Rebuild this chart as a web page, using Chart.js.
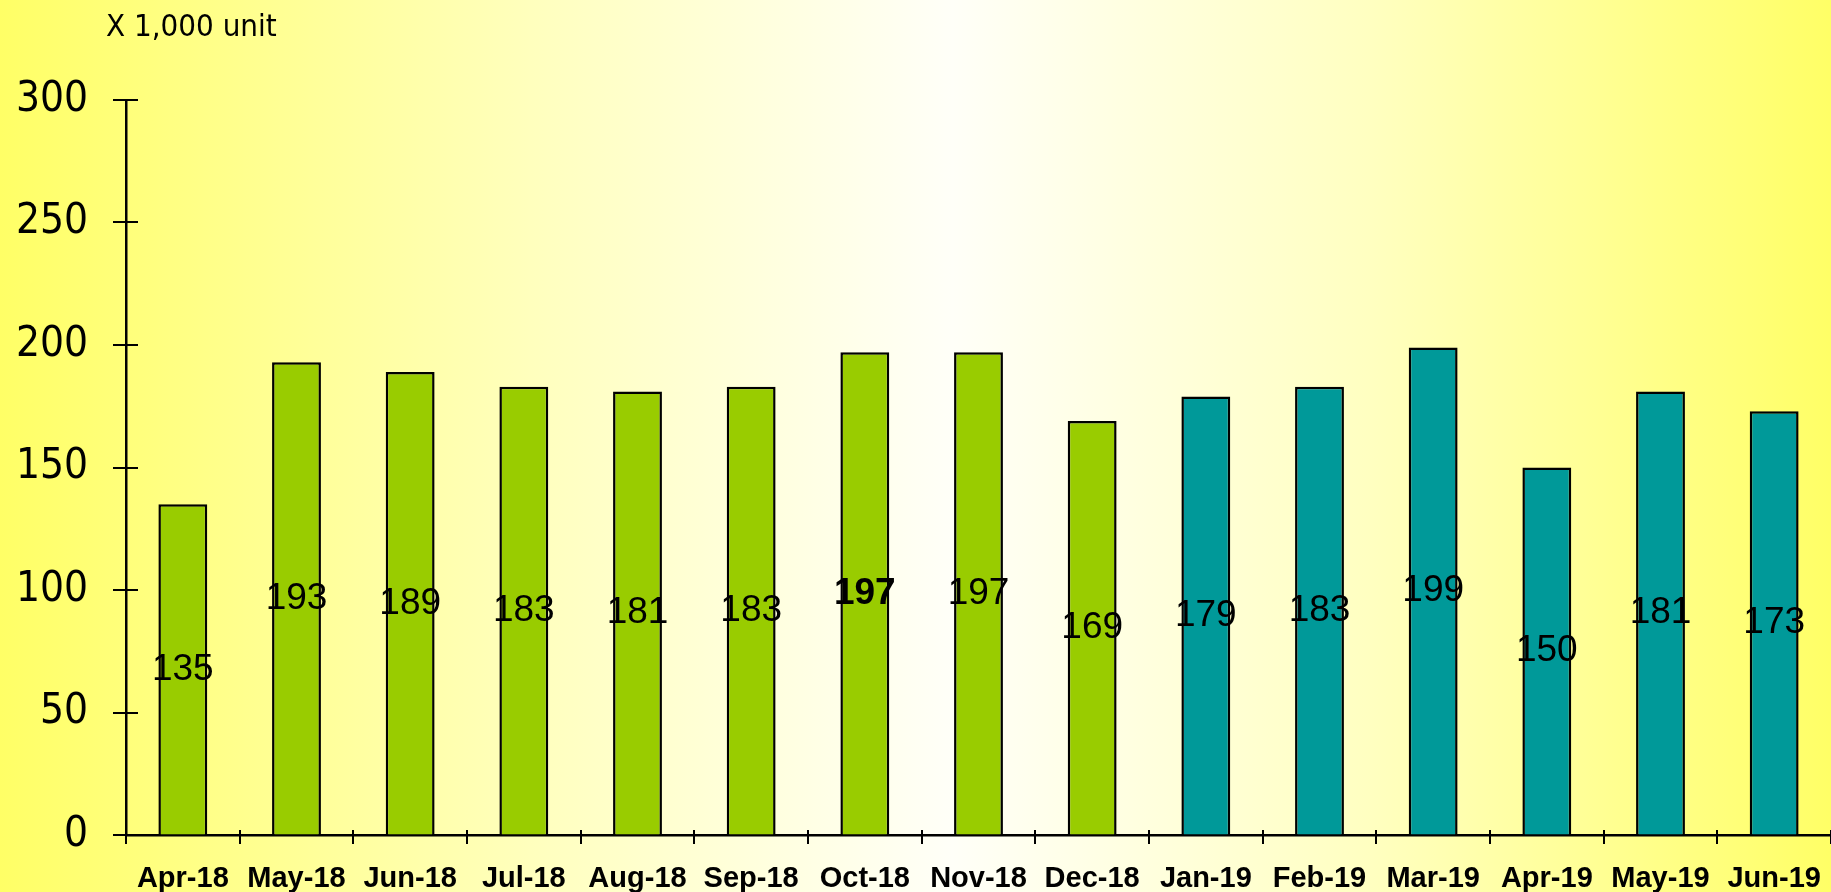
<!DOCTYPE html>
<html>
<head>
<meta charset="utf-8">
<style>
html,body{margin:0;padding:0;overflow:hidden;}
body{width:1831px;height:892px;background:linear-gradient(90deg,#ffff66 0%,#ffffc0 30%,#fffff8 52%,#ffffc0 75%,#ffff66 100%);}
#wrap{position:absolute;left:0;top:0;width:1831px;height:892px;}
</style>
<script src="https://cdn.jsdelivr.net/npm/chart.js@4"></script>
</head>
<body>
<div id="wrap"><canvas id="c" width="1831" height="892"></canvas></div>
<script>
const months=["Apr-18","May-18","Jun-18","Jul-18","Aug-18","Sep-18","Oct-18","Nov-18","Dec-18","Jan-19","Feb-19","Mar-19","Apr-19","May-19","Jun-19"];
const units=[135,193,189,183,181,183,197,197,169,179,183,199,150,181,173];
const yTicks=[0,50,100,150,200,250,300];
const boldLabels=["Oct-18"];
const unitText="X 1,000 unit";

const GREEN="#99cc00",TEAL="#009999";
const condensed='"DejaVu Sans Condensed","DejaVu Sans",sans-serif';

const ticksAndLabels={
  id:"ticksAndLabels",
  afterDraw(chart){
    const ctx=chart.ctx,x=chart.scales.x,y=chart.scales.y;
    const y0=y.getPixelForValue(0);
    ctx.save();
    ctx.strokeStyle="#000";
    ctx.lineWidth=2;
    // y ticks cross the axis
    yTicks.forEach(v=>{
      const py=Math.round(y.getPixelForValue(v));
      ctx.beginPath();ctx.moveTo(x.left-13,py);ctx.lineTo(x.left+12,py);ctx.stroke();
    });
    // category boundaries
    const w=x.getPixelForValue(1)-x.getPixelForValue(0);
    for(let i=0;i<=months.length;i++){
      const px=Math.round(x.getPixelForValue(i)-w/2);
      ctx.beginPath();ctx.moveTo(px,y0-5);ctx.lineTo(px,y0+9);ctx.stroke();
    }
    // value labels in the middle of each bar
    const meta=chart.getDatasetMeta(0);
    ctx.fillStyle="#000";
    ctx.textAlign="center";
    ctx.textBaseline="middle";
    meta.data.forEach((bar,i)=>{
      const b=boldLabels.includes(months[i]);
      ctx.font=(b?"bold ":"")+'37px "Liberation Sans",Arial,sans-serif';
      ctx.fillText(String(units[i]),bar.x,y.getPixelForValue(units[i]/2));
    });
    // unit caption
    ctx.font="31px "+condensed;
    ctx.textAlign="left";
    ctx.textBaseline="alphabetic";
    ctx.fillText(unitText,106,36);
    ctx.restore();
  }
};

new Chart(document.getElementById("c"),{
  type:"bar",
  data:{
    labels:months,
    datasets:[{
      data:units,
      backgroundColor:months.map(m=>m.endsWith("-18")?GREEN:TEAL),
      borderColor:"#000",
      borderWidth:2.5,
      barPercentage:0.43,
      categoryPercentage:1
    }]
  },
  options:{
    responsive:false,
    animation:false,
    devicePixelRatio:1,
    layout:{padding:{top:100,right:0,bottom:0,left:0}},
    plugins:{legend:{display:false},tooltip:{enabled:false},title:{display:false}},
    scales:{
      x:{
        grid:{display:true,drawOnChartArea:false,drawTicks:false},
        border:{display:true,color:"#000",width:2.5},
        ticks:{color:"#000",font:{family:'"Liberation Sans",Arial,sans-serif',size:29,weight:"bold"},padding:27,maxRotation:0,autoSkip:false},
        afterFit(s){s.height=57;s.paddingLeft=0;s.paddingRight=0;}
      },
      y:{
        min:0,max:300,
        grid:{display:true,drawOnChartArea:false,drawTicks:false},
        border:{display:true,color:"#000",width:2.5},
        ticks:{stepSize:50,color:"#000",font:{family:condensed,size:42},padding:38},
        afterFit(s){s.width=126;s.paddingTop=0;s.paddingBottom=0;}
      }
    }
  },
  plugins:[ticksAndLabels]
});
</script>
</body>
</html>
